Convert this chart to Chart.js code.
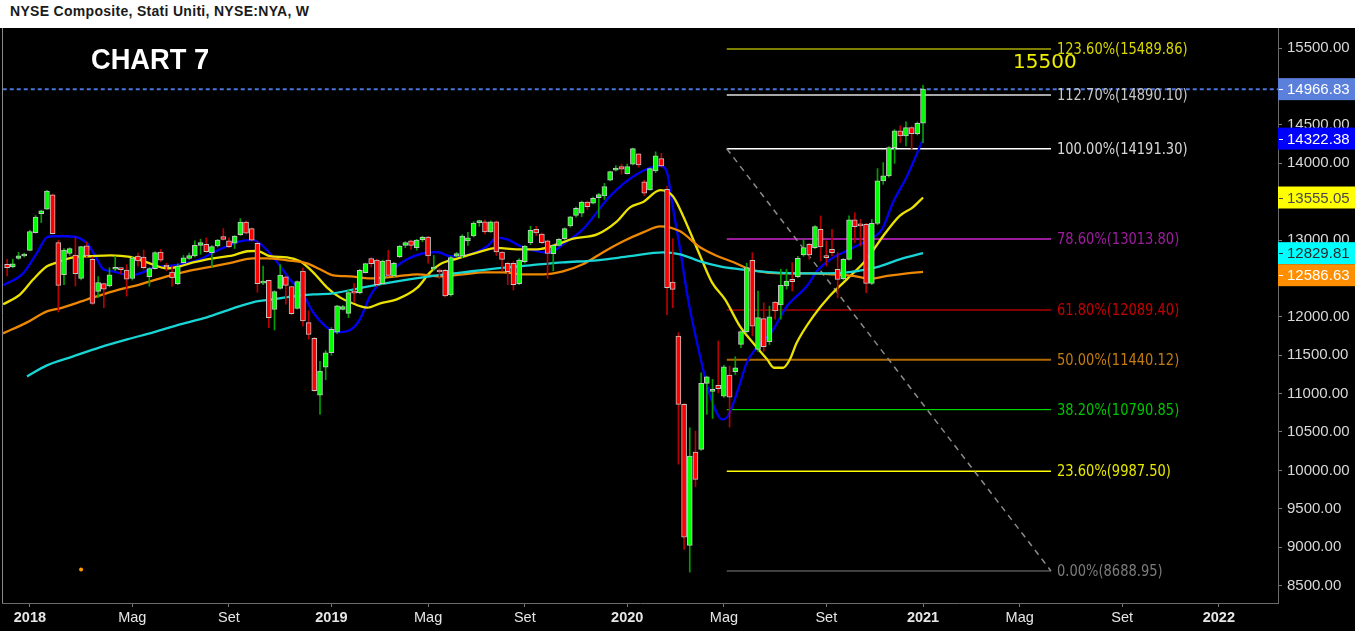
<!DOCTYPE html>
<html>
<head>
<meta charset="utf-8">
<script src="https://cdn.jsdelivr.net/npm/chart.js@4.4.0/dist/chart.umd.min.js"></script>
<style>
  html, body { margin: 0; padding: 0; background: #000; width: 1355px; height: 631px; overflow: hidden; }
  #head { height: 28px; background: #fff; color: #1a1a1a; font: bold 14px "Liberation Sans", Arial, sans-serif;
          letter-spacing: 0.3px; padding-left: 10px; line-height: 22px; box-sizing: border-box; }
  #wrap { position: relative; width: 1355px; height: 603px; }
  canvas { display: block; }
</style>
</head>
<body>
<div id="head">NYSE Composite, Stati Uniti, NYSE:NYA, W</div>
<div id="wrap"><canvas id="chart" width="1355" height="603"></canvas></div>
<script>
// weekly candles, week 0 = 4 Dic 2017
const opens = [
  12685,12650,12760,12793,12867,13098,13345,13402,13590,12967,
  12550,12825,12806,12500,12924,12750,12333,12433,12403,12620,
  12620,12610,12500,12793,12780,12524,12628,12845,12670,12585,
  12433,12706,12760,12793,12932,12945,12836,12924,13045,12990,
  12960,13070,13236,13150,12958,12440,12476,12098,12372,12520,
  12395,12110,12598,11924,11720,10980,11346,11533,11800,12098,
  12046,12320,12315,12576,12758,12740,12433,12740,12533,12784,
  12932,12989,12902,13002,13041,12620,12611,12606,12285,12790,
  12793,12990,13054,13228,13237,13106,13237,12845,12697,12697,
  12433,12720,12967,13141,13080,12989,12824,12932,13020,13184,
  13323,13350,13497,13480,13554,13575,13780,13910,13958,13867,
  13988,14123,13758,13654,13902,14062,13662,12454,11750,10859,
  9021,10238,10273,11133,11030,11107,10968,11242,11285,11641,
  11807,12737,11576,11977,11676,12194,12155,12402,12489,12524,
  12807,12945,12902,13141,12793,12880,12620,12498,12750,13263,
  13206,13206,12437,13219,13771,13836,14205,14423,14358,14466,
  14388,14523
];
const highs = [
  12750,12750,12840,12830,13130,13320,13390,13650,13600,13000,
  12890,12900,13030,12920,12975,12780,12525,12440,12640,12790,
  12630,12680,12780,12830,12870,12640,12850,12880,12700,12660,
  12690,12800,12830,12990,13010,13030,12930,13010,13150,13030,
  13060,13280,13250,13160,12980,12660,12480,12340,12680,12530,
  12400,12470,12640,12080,11730,11420,11560,11860,12150,12150,
  12350,12437,12620,12700,12770,12750,12740,12867,12710,12930,
  12980,13000,13010,13050,13050,12800,12630,12620,12790,12840,
  13070,13100,13240,13260,13260,13250,13250,12850,12710,12720,
  12760,12930,13180,13180,13090,13000,12940,13020,13160,13310,
  13430,13510,13510,13560,13610,13740,13900,13970,13990,13990,
  14200,14130,13780,13940,14150,14130,13700,13020,11794,10870,
  10555,10512,11272,11230,11186,11685,11370,11359,11480,11820,
  12700,12837,12337,12185,12140,12200,12620,12620,12706,12790,
  13010,12960,13190,13315,12990,13141,12837,12760,13315,13358,
  13270,13220,13270,13932,14010,14220,14440,14488,14540,14480,
  14540,15018
];
const lows = [
  12533,12640,12750,12780,12860,13090,13228,13400,13080,12063,
  12420,12800,12400,12480,12780,12160,12250,12120,12390,12600,
  12560,12270,12480,12660,12620,12400,12620,12720,12600,12400,
  12420,12700,12750,12780,12815,12840,12650,12910,13000,12900,
  12890,13060,13080,12990,12320,12420,11860,11830,12360,12165,
  12030,12100,11880,11710,11030,10730,11180,11500,11780,12090,
  11990,12185,12300,12570,12650,12400,12420,12530,12520,12770,
  12900,12880,12870,12980,12700,12600,12500,12260,12270,12780,
  12770,12930,13040,13180,13080,13100,12800,12600,12420,12350,
  12420,12700,12940,13060,12950,12500,12600,12920,13000,13170,
  13300,13306,13400,13470,13290,13530,13770,13900,13860,13860,
  13980,13950,13580,13650,13880,13950,12030,12120,10080,8970,
  8674,9786,10260,10729,10677,11011,10950,10564,11250,11600,
  11790,11750,11550,11550,11640,11970,11970,12360,12337,12510,
  12790,12750,12890,12728,12663,12793,12250,12480,12740,12967,
  12924,12315,12420,13200,13727,13820,14000,14270,14227,14184,
  14370,14270
];
const closes = [
  12641,12690,12795,12810,13110,13300,13380,13640,13085,12411,
  12870,12890,12563,12915,12793,12176,12446,12360,12546,12625,
  12615,12490,12770,12728,12640,12628,12837,12740,12650,12506,
  12663,12770,12800,12932,12967,12850,12915,13000,13010,12915,
  13054,13236,13090,13000,12433,12455,11990,12330,12545,12410,
  12042,12460,11946,11772,11040,11294,11533,11837,12145,12133,
  12315,12310,12606,12693,12693,12420,12728,12541,12698,12923,
  12967,12932,13002,13041,12793,12650,12585,12272,12771,12824,
  13054,13030,13223,13237,13106,13237,12845,12750,12590,12420,
  12741,12923,13128,13093,12967,12828,12932,13011,13150,13302,
  13415,13497,13436,13545,13593,13697,13893,13940,13923,13958,
  14192,13980,13610,13932,14097,13966,12380,12359,10859,9130,
  10186,9882,11133,11220,11033,11063,11350,10955,11337,11807,
  12641,11880,11990,11611,12002,12076,12411,12467,12459,12763,
  12902,12807,13176,12911,12772,12837,12489,12750,13263,13176,
  13185,12437,13219,13771,13836,14205,14423,14358,14466,14388,
  14523,14967
];

// medie mobili: [settimana, valore]
const maBlue = [[-0.7,12411],[2.8,12567],[5.3,12841],[7.0,13037],[8.1,13050],[10.5,13050],[12.8,13023],[14.2,12945],
  [15.8,12750],[16.9,12620],[18.6,12593],[21.6,12541],[23.9,12580],[25.7,12645],[28.1,12660],[30.4,12685],[33.9,12750],
  [36.2,12840],[38.7,12920],[40.9,12985],[43.2,13000],[45.0,12920],[47.5,12710],[49.7,12490],[52.0,12293],[53.8,12060],
  [56.2,11863],[58.0,11800],[60.3,11830],[62.0,11968],[63.8,12270],[66.1,12490],[70.3,12750],[75.6,12845],[77.9,12790],
  [81.4,12815],[84.4,12920],[86.1,13032],[87.9,13010],[90.2,12923],[92.4,12867],[95.4,12837],[97.7,12945],[101.2,13140],
  [106.0,13575],[110.7,13858],[114.8,13966],[116.0,13880],[117.0,13440],[118.3,12880],[119.7,12228],[121.8,11490],
  [123.6,10968],[125.7,10664],[126.5,10686],[128.5,11055],[130.0,11400],[131.5,11576],[134.3,11794],[137.1,12141],
  [140.6,12402],[142.4,12600],[145.2,12772],[147.6,12860],[149.9,12945],[152.2,13032],[153.8,13141],[155.7,13488],
  [158.2,13836],[160.0,14140],[161,14322]];
const maYellow = [[-0.7,12163],[2.3,12293],[4.6,12489],[7.0,12659],[8.8,12710],[11.6,12776],[14.6,12790],[18.1,12802],
  [21.6,12780],[24.6,12710],[28.1,12632],[30.4,12658],[32.7,12710],[36.2,12763],[39.7,12802],[42.2,12855],[43.9,12860],
  [46.2,12790],[49.2,12776],[51.5,12723],[53.8,12580],[56.2,12385],[58.5,12254],[60.3,12190],[63.3,12120],[65.6,12176],
  [68.5,12228],[72.1,12380],[74.3,12576],[76.1,12685],[79.1,12760],[82.6,12837],[86.1,12900],[89.6,12880],[93.1,12880],
  [96.7,12945],[99.5,13020],[103.7,13075],[107.2,13245],[109.5,13427],[111.8,13495],[114.8,13650],[117.0,13575],
  [118.3,13400],[121.8,12800],[123.9,12450],[126.2,12228],[128.8,11880],[131.1,11663],[133.6,11446],[134.8,11337],
  [136.4,11337],[137.6,11446],[138.8,11663],[141.7,12007],[144.6,12272],[147.6,12489],[151.1,12750],[154.0,13054],
  [156.9,13315],[159.2,13427],[161,13555]];
const maOrange = [[-0.7,11785],[3.5,11928],[7.0,12072],[9.3,12111],[14.1,12228],[18.6,12333],[23.4,12424],[28.1,12528],
  [31.6,12593],[36.2,12658],[39.7,12710],[43.2,12763],[45.7,12763],[49.2,12737],[52.7,12698],[55.0,12620],[57.3,12541],
  [60.3,12528],[63.8,12502],[68.5,12528],[72.1,12554],[76.1,12528],[80.1,12554],[83.7,12580],[87.2,12580],[90.7,12554],
  [94.2,12554],[97.7,12593],[101.2,12685],[104.7,12840],[108.3,12985],[111.8,13100],[114.8,13180],[118.3,13115],
  [121.8,12906],[124.8,12793],[127.6,12715],[130.6,12620],[133.6,12576],[137.1,12567],[141.1,12567],[145.2,12554],
  [148.7,12533],[151.7,12498],[154.7,12533],[158.2,12567],[161,12587]];
const maCyan = [[3.5,11224],[7.0,11368],[11.6,11485],[16.3,11603],[21.1,11707],[25.7,11798],[30.4,11902],[35.1,11994],
  [39.7,12111],[43.2,12190],[46.7,12228],[50.3,12267],[53.8,12293],[57.3,12306],[62.6,12385],[68.5,12463],[74.3,12528],
  [80.1,12580],[86.1,12632],[91.9,12672],[97.7,12710],[103.7,12737],[109.5,12790],[115.3,12840],[118.3,12815],
  [121.8,12724],[125.3,12659],[127.6,12632],[130.6,12606],[134.6,12580],[139.4,12567],[144.1,12567],[147.6,12580],
  [151.1,12620],[153.4,12659],[156.9,12750],[161,12830]];

// Fibonacci
const fibPct = ['123.60%', '112.70%', '100.00%', '78.60%', '61.80%', '50.00%', '38.20%', '23.60%', '0.00%'];
const fibVal = [15489.86, 14890.10, 14191.30, 13013.80, 12089.40, 11440.12, 10790.85, 9987.50, 8688.95];
const fibFrom = 126.5, fibTo = 183.5;

// assi
const xTickPos = [4, 22, 39, 57, 74, 91, 109, 126, 144, 161, 178, 196, 213];
const xTickLab = ['2018', 'Mag', 'Set', '2019', 'Mag', 'Set', '2020', 'Mag', 'Set', '2021', 'Mag', 'Set', '2022'];
const yTicks = [8500, 9000, 9500, 10000, 10500, 11000, 11500, 12000, 12500, 13000, 13500, 14000, 14500, 15000, 15500];

const lastPrice = 14966.83;
const tagVals = [14966.83, 14322.38, 13555.05, 12829.81, 12586.63];
const targetLabel = '15500';
const strayDot = [[13, 8709]];

// stili
const fibLineColor = ['#ffff00', '#a8a8a8', '#ffffff', '#9a1c9a', '#ff0000', '#b06a00', '#00ff00', '#ffff00', '#808080'];
const fibLineWidth = [1, 2, 1.5, 2, 1, 2, 1, 1.5, 1];
const fibTextColor = ['#d8d800', '#c8c8c8', '#d8d8d8', '#a01ca0', '#c40000', '#c47c10', '#00c400', '#e8e800', '#7c7c7c'];
const tagStyle = [['#5b80dc', '#ffffff'], ['#0000ff', '#ffffff'], ['#ffff00', '#4a4a4a'], ['#00ffff', '#2a2a2a'], ['#ff8f00', '#ffffff']];

const upWick = [], dnWick = [], upBody = [], dnBody = [];
opens.forEach((o, i) => {
  const up = closes[i] >= o;
  (up ? upWick : dnWick).push({x: i, y: [lows[i], highs[i]]});
  (up ? upBody : dnBody).push({x: i, y: [o, closes[i]]});
});

const pts = a => a.map(p => ({x: p[0], y: p[1]}));
const maLine = (data, color) => ({
  type: 'line', data: pts(data), borderColor: color, borderWidth: 2.3,
  pointRadius: 0, pointHoverRadius: 0, cubicInterpolationMode: 'monotone', order: 20
});

const datasets = [
  maLine(maCyan, '#18d6d6'),
  maLine(maOrange, '#ee8800'),
  maLine(maYellow, '#ece200'),
  maLine(maBlue, '#0000f0'),
];
fibVal.forEach((v, i) => {
  datasets.push({type: 'line', data: [{x: fibFrom, y: v}, {x: fibTo, y: v}], borderColor: fibLineColor[i],
    borderWidth: fibLineWidth[i], pointRadius: 0, pointHoverRadius: 0, order: 30});
});
datasets.push({type: 'line', data: [{x: fibFrom, y: fibVal[2]}, {x: fibTo, y: fibVal[8]}], borderColor: '#8a8a8a',
  borderDash: [6, 5], borderWidth: 1.5, pointRadius: 0, pointHoverRadius: 0, order: 29});
datasets.push({type: 'line', data: [{x: -2, y: lastPrice}, {x: 230, y: lastPrice}], borderColor: '#4a74dc',
  borderDash: [4, 3], borderWidth: 2, pointRadius: 0, pointHoverRadius: 0, order: 31});
datasets.push({type: 'line', data: pts(strayDot), showLine: false, pointRadius: 2, pointHoverRadius: 2, pointBorderWidth: 0,
  pointBackgroundColor: '#ff9a00', order: 32});
// candele: stoppini e corpi
datasets.push({type: 'bar', data: upWick, backgroundColor: '#00a000', barThickness: 1, grouped: false, order: 10});
datasets.push({type: 'bar', data: dnWick, backgroundColor: '#b80000', barThickness: 1, grouped: false, order: 10});
datasets.push({type: 'bar', data: upBody, backgroundColor: '#00ff00', borderColor: '#c4c4c4', borderWidth: 1,
  borderSkipped: false, barThickness: 5, minBarLength: 2, grouped: false, order: 5});
datasets.push({type: 'bar', data: dnBody, backgroundColor: '#ff0000', borderColor: '#c4c4c4', borderWidth: 1,
  borderSkipped: false, barThickness: 5, minBarLength: 2, grouped: false, order: 5});

const overlay = {
  id: 'overlay',
  afterDraw(chart) {
    const {ctx, chartArea: a, scales: {x, y}} = chart;
    ctx.save();
    // bordo sinistro
    ctx.strokeStyle = '#8a8a8a';
    ctx.lineWidth = 1;
    ctx.beginPath();
    ctx.moveTo(a.left + 0.5, a.top);
    ctx.lineTo(a.left + 0.5, a.bottom);
    ctx.stroke();

    // etichette Fibonacci (font un po' stretto)
    ctx.font = '15px "DejaVu Sans"';
    ctx.textAlign = 'left';
    ctx.textBaseline = 'middle';
    const lx = x.getPixelForValue(fibTo) + 6;
    fibVal.forEach((v, i) => {
      ctx.save();
      ctx.translate(lx, y.getPixelForValue(v) + 1);
      ctx.scale(0.87, 1);
      ctx.fillStyle = fibTextColor[i];
      ctx.fillText(fibPct[i] + '(' + v.toFixed(2) + ')', 0, 0);
      ctx.restore();
    });

    // scritte
    ctx.textBaseline = 'alphabetic';
    ctx.fillStyle = '#ffffff';
    ctx.font = 'bold 29px "Liberation Sans", Arial';
    ctx.save();
    ctx.translate(91, 40.5);
    ctx.scale(0.94, 1);
    ctx.fillText('CHART 7', 0, 0);
    ctx.restore();
    ctx.fillStyle = '#eeee00';
    ctx.font = '20px "DejaVu Sans"';
    ctx.fillText(targetLabel, 1013, 39.5);

    // etichette prezzo sull'asse
    ctx.font = '15px "Liberation Sans", Arial';
    ctx.textBaseline = 'middle';
    let prev = -Infinity;
    tagVals.map((v, i) => ({v, i, py: y.getPixelForValue(v)}))
      .sort((p, q) => p.py - q.py)
      .forEach(t => {
        const cy = Math.max(t.py, prev + 22);
        prev = cy;
        ctx.fillStyle = tagStyle[t.i][0];
        ctx.fillRect(a.right, cy - 11, chart.width - a.right, 22);
        ctx.fillStyle = tagStyle[t.i][1];
        ctx.fillRect(a.right + 1, Math.round(cy), 4, 1);
        ctx.fillText(t.v.toFixed(2), a.right + 9, cy + 1);
      });
    ctx.restore();
  }
};

const ctx = document.getElementById('chart').getContext('2d');
new Chart(ctx, {
  type: 'bar',
  data: {datasets: datasets},
  options: {
    responsive: false,
    animation: false,
    devicePixelRatio: 1,
    layout: {autoPadding: false, padding: {left: 2, top: 0, right: 0, bottom: 0}},
    plugins: {legend: {display: false}, tooltip: {enabled: false}},
    scales: {
      x: {
        type: 'linear',
        min: -0.9,
        max: 223.4,
        offset: false,
        afterBuildTicks: s => { s.ticks = xTickPos.map(v => ({value: v})); },
        afterFit: s => { s.height = 28; s.paddingLeft = 0; s.paddingRight = 0; },
        grid: {drawOnChartArea: false, offset: false, drawTicks: true, tickLength: 4, tickColor: '#777'},
        border: {color: '#6a6a6a'},
        ticks: {
          autoSkip: false,
          maxRotation: 0,
          padding: 2,
          color: '#e6e6e6',
          font: c => ({family: '"Liberation Sans", Arial', size: 14.5,
                       weight: /^\d/.test(xTickLab[c.index]) ? 'bold' : 'normal'}),
          callback: (v, i) => xTickLab[i]
        }
      },
      y: {
        type: 'linear',
        position: 'right',
        min: 8272,
        max: 15763.5,
        afterBuildTicks: s => { s.ticks = yTicks.map(v => ({value: v})); },
        afterFit: s => { s.width = 77; s.paddingTop = 0; s.paddingBottom = 0; },
        grid: {drawOnChartArea: false, drawTicks: true, tickLength: 4, tickColor: '#777'},
        border: {color: '#6a6a6a'},
        ticks: {
          padding: 5,
          color: '#d8d8d8',
          font: {family: '"Liberation Sans", Arial', size: 15},
          callback: v => v.toFixed(2)
        }
      }
    }
  },
  plugins: [overlay]
});
</script>
</body>
</html>
